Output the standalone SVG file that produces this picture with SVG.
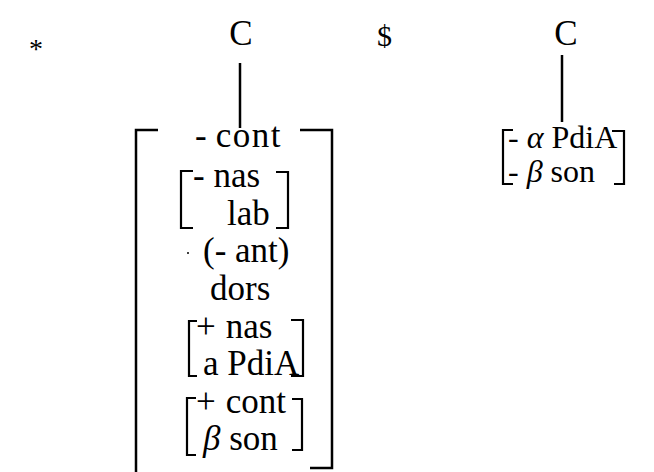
<svg xmlns="http://www.w3.org/2000/svg" width="654" height="472" viewBox="0 0 654 472">
<style>
text{font-family:"Liberation Serif","Times New Roman",serif;font-size:35px;fill:#000}
.r{font-size:32px}
.br{fill:none;stroke:#000;stroke-width:2.5}
.br2{fill:none;stroke:#000;stroke-width:2.2}
.ln{stroke:#000;stroke-width:2.5}
</style>
<rect width="654" height="472" fill="#fff"/>
<text x="29" y="58" style="font-size:28px">*</text>
<text x="377" y="46" style="font-size:30px">$</text>
<g id="c1"><text x="241" y="45" text-anchor="middle">C</text></g>
<g id="c2"><text x="566" y="45" text-anchor="middle">C</text></g>
<g id="connectors">
<line class="ln" x1="240" y1="63" x2="240" y2="128"/>
<line class="ln" x1="562" y1="55" x2="562" y2="122"/>
</g>
<g id="matrix1">
<path class="br" d="M158,130 H136 V472"/>
<path class="br" d="M300,130 H332 V468 H310"/>
<text x="195" y="147">-<tspan dx="9" letter-spacing="1.5">cont</tspan></text>
<path class="br2" d="M193,171 H181 V228 H193"/>
<path class="br2" d="M276,172 H288 V228 H276"/>
<text x="193" y="187">- nas</text>
<text x="227" y="225">lab</text>
<text x="203" y="262">(- ant)</text>
<circle cx="188" cy="253" r="1" fill="#000"/>
<text x="210" y="300">dors</text>
<path class="br2" d="M197,321 H189 V376 H197"/>
<path class="br2" d="M291,320 H303 V376 H291"/>
<text x="196" y="338">+<tspan dx="10">nas</tspan></text>
<text x="203" y="375">a PdiA</text>
<path class="br2" d="M196,398 H187 V455 H196"/>
<path class="br2" d="M292,399 H302 V450 H292"/>
<text x="196" y="413">+<tspan dx="10">cont</tspan></text>
<text x="203" y="450"><tspan font-style="italic">β</tspan> son</text>
</g>
<g id="matrix2">
<path class="br2" d="M513,130 H503 V184 H513"/>
<path class="br2" d="M612,131 H624 V184 H614"/>
<text class="r" x="508" y="148">- <tspan font-style="italic">α</tspan> PdiA</text>
<text class="r" x="508" y="182">- <tspan font-style="italic">β</tspan> son</text>
</g>
</svg>
